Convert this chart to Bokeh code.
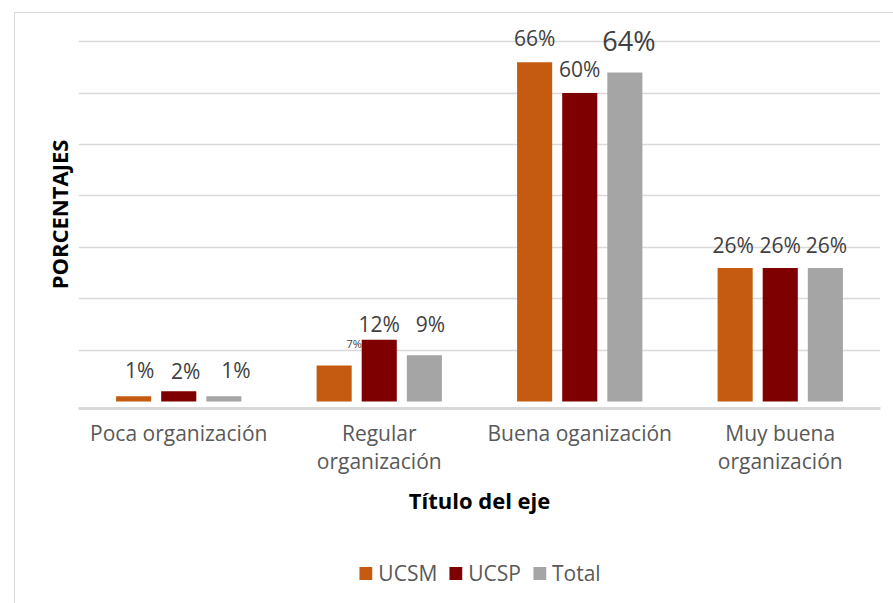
from bokeh.plotting import figure
from bokeh.layouts import column
from bokeh.models import (FactorRange, Range1d, FixedTicker, Legend, LegendItem,
                          ColumnDataSource, InlineStyleSheet)
from bokeh.transform import dodge
from bokeh.core.properties import value
from bokeh.embed import file_html
from bokeh.resources import INLINE

# ---- data ----
categories = ["Poca organización", "Regular\norganización",
              "Buena oganización", "Muy buena\norganización"]
series = ["UCSM", "UCSP", "Total"]
ucsm = [1, 7, 66, 26]
ucsp = [2, 12, 60, 26]
total = [1, 9, 64, 26]
values_by_series = [ucsm, ucsp, total]

# ---- styles ----
colors = ["#C55A11", "#7F0000", "#A5A5A5"]
offsets = [-0.225, 0.0, 0.225]
bar_width = 0.175
# data label nudges (pixels) and sizes, per series per category
label_dx = [[6, 20, 0, -2], [7, 0, 0, 0], [12, 6, 4, 1]]
label_dy = [[-26, -22, -24, -23], [-20, -16, -24, -23], [-26, -31, -32, -23]]
label_size = [["21px", "11px", "21px", "21px"],
              ["21px", "21px", "21px", "21px"],
              ["21px", "21px", "27px", "21px"]]
FONT = "Open Sans"

p = figure(width=885, height=530, output_backend="svg", toolbar_location=None,
           x_range=FactorRange(*categories, range_padding=0),
           y_range=Range1d(-1.36, 74.13),
           min_border_left=78, min_border_right=5,
           min_border_top=20, min_border_bottom=122)
p.outline_line_color = None
p.background_fill_color = "white"
p.border_fill_color = "white"

renderers = []
for name, vals, col, off, dxs, dys, sizes in zip(series, values_by_series, colors,
                                                  offsets, label_dx, label_dy, label_size):
    src = ColumnDataSource(dict(cat=categories, val=vals,
                                txt=[f"{v}%" for v in vals],
                                dx=dxs, dy=dys, fs=sizes))
    r = p.vbar(x=dodge("cat", off, range=p.x_range), top="val", width=bar_width,
               source=src, fill_color=col, line_color=None)
    renderers.append(r)
    p.text(x=dodge("cat", off, range=p.x_range), y="val", text="txt", source=src,
           x_offset="dx", y_offset="dy", text_font_size="fs",
           text_font=value(FONT), text_color="#404040",
           text_align="center", text_baseline="middle")

# grid
p.xgrid.visible = False
p.ygrid.ticker = FixedTicker(ticks=[10, 20, 30, 40, 50, 60, 70])
p.ygrid.grid_line_color = "#d9d9d9"
p.ygrid.grid_line_width = 1.5

# y axis: title only
p.yaxis.ticker = FixedTicker(ticks=[])
p.yaxis.axis_line_color = None
p.yaxis.major_tick_line_color = None
p.yaxis.minor_tick_line_color = None
p.yaxis.major_label_text_font_size = "0px"
p.yaxis.major_tick_out = 0
p.yaxis.major_tick_in = 0
p.yaxis.major_label_standoff = 0
p.yaxis.axis_label = "PORCENTAJES"
p.yaxis.axis_label_text_font = FONT
p.yaxis.axis_label_text_font_style = "bold"
p.yaxis.axis_label_text_font_size = "22px"
p.yaxis.axis_label_text_color = "#000000"
p.yaxis.axis_label_standoff = 5

# x axis
p.xaxis.axis_line_color = "#d9d9d9"
p.xaxis.axis_line_width = 3
p.xaxis.major_tick_line_color = None
p.xaxis.minor_tick_line_color = None
p.xaxis.major_tick_out = 0
p.xaxis.major_tick_in = 0
p.xaxis.major_label_standoff = 10
p.xaxis.major_label_text_font = FONT
p.xaxis.major_label_text_font_size = "21px"
p.xaxis.major_label_text_color = "#595959"
p.xaxis.major_label_text_line_height = 1.03
p.xaxis.major_label_orientation = "horizontal"
p.xaxis.axis_label = "Título del eje"
p.xaxis.axis_label_text_font = FONT
p.xaxis.axis_label_text_font_style = "bold"
p.xaxis.axis_label_text_font_size = "22px"
p.xaxis.axis_label_text_color = "#000000"
p.xaxis.axis_label_standoff = 7

# legend in a strip below the chart (zero-height proxy bars carry the swatches)
p2 = figure(width=885, height=65, output_backend="svg", toolbar_location=None,
            x_range=Range1d(0, 1), y_range=Range1d(0, 1),
            x_axis_location=None, y_axis_location=None,
            min_border_left=32, min_border_right=0,
            min_border_top=20, min_border_bottom=0)
p2.grid.visible = False
p2.outline_line_color = None
p2.background_fill_color = "white"
p2.border_fill_color = "white"
legend_renderers = [p2.vbar(x=[0.5], top=[0], bottom=[0], width=0.01,
                            fill_color=c, line_color=None)
                    for c in colors]
legend = Legend(items=[LegendItem(label=s, renderers=[r])
                       for s, r in zip(series, legend_renderers)],
                orientation="horizontal", location="center",
                background_fill_alpha=0, border_line_color=None,
                label_text_font=FONT, label_text_font_size="21px",
                label_text_color="#595959", glyph_width=16, glyph_height=16,
                label_standoff=5, spacing=10, padding=0, margin=0)
p2.add_layout(legend)

layout = column(p, p2, spacing=0)
# chart border (light gray frame around the whole chart)
layout.stylesheets.append(InlineStyleSheet(css="""
:host::after {
  content: ""; position: absolute; left: 14px; top: 12px; right: -20px; bottom: -20px;
  border-left: 1px solid #d9d9d9; border-top: 1px solid #d9d9d9;
  pointer-events: none; z-index: 10;
}
"""))

open("out.html", "w").write(file_html(layout, INLINE))
